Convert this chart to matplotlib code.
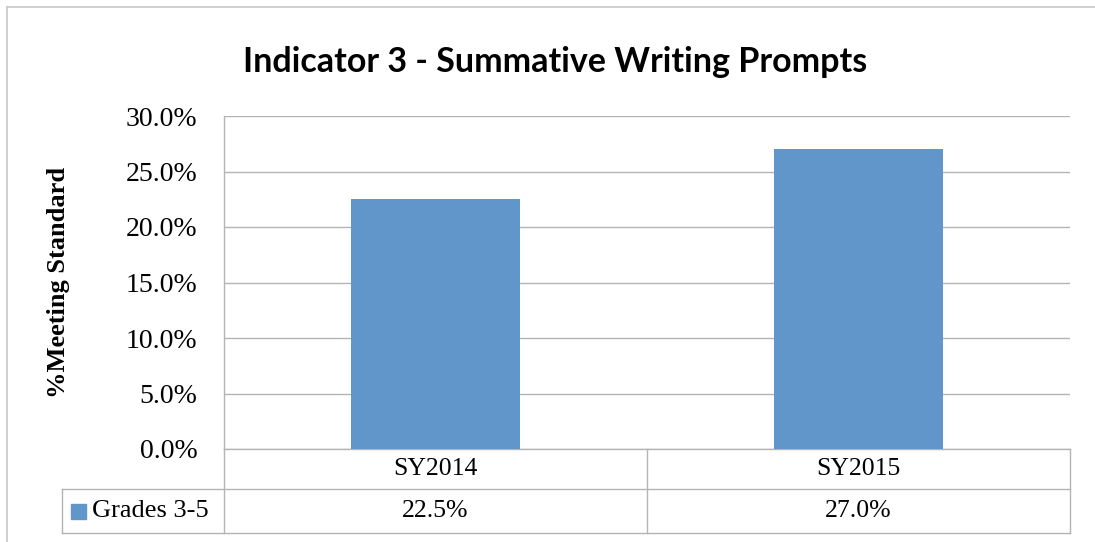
import matplotlib
matplotlib.use("Agg")
import matplotlib.pyplot as plt
from matplotlib.patches import Rectangle
from matplotlib.ticker import FuncFormatter, MultipleLocator

# chart data
categories = ["SY2014", "SY2015"]
grades_3_5 = [22.5, 27.0]
series_name = "Grades 3-5"
title = "Indicator 3 - Summative Writing Prompts"
y_label = "%Meeting Standard"

bar_color = "#6096c9"
line_color = "#b4b4b4"
serif = ["Liberation Serif", "DejaVu Serif"]

fig = plt.figure(figsize=(10.95, 5.42), dpi=100)
ax = fig.add_axes([224 / 1095, 93 / 542, 846 / 1095, 333 / 542])

# outer chart border (top and left edges visible)
fig.add_artist(plt.Line2D([6.5 / 1095, 1], [1 - 7 / 542, 1 - 7 / 542],
                          transform=fig.transFigure, color="#c8c8c8", linewidth=1.2))
fig.add_artist(plt.Line2D([6.5 / 1095, 6.5 / 1095], [0, 1 - 7 / 542],
                          transform=fig.transFigure, color="#c8c8c8", linewidth=1.2))

x = list(range(len(categories)))
ax.bar(x, grades_3_5, width=0.4, color=bar_color, zorder=3)
ax.set_xlim(-0.5, len(categories) - 0.5)
ax.set_ylim(0, 30)
ax.yaxis.set_major_locator(MultipleLocator(5))
ax.yaxis.set_major_formatter(FuncFormatter(lambda v, p: f"{v:.1f}%"))
ax.grid(axis="y", color=line_color, linewidth=1.0, zorder=0)
ax.set_xticks([])
ax.tick_params(axis="y", length=0, pad=19)
for lab in ax.get_yticklabels():
    lab.set_fontfamily(serif)
    lab.set_fontsize(20)
for s in ["top", "right", "bottom"]:
    ax.spines[s].set_visible(False)
ax.spines["left"].set_color(line_color)
ax.spines["left"].set_linewidth(1.0)

ax.set_ylabel(y_label, fontfamily=serif, fontweight="bold", fontsize=19, labelpad=40)
fig.suptitle(title, x=0.507, y=0.915, fontsize=24.5, fontweight="bold",
             fontfamily=["Lato", "DejaVu Sans"])

# data table below the axis
tr = ax.get_xaxis_transform()
row1 = -40 / 333
row2 = -84 / 333
box_left = -0.5 - (162 / 846) * len(categories)
lkw = dict(color=line_color, linewidth=1.0, clip_on=False, transform=tr)
ax.plot([-0.5, len(categories) - 0.5], [0, 0], **lkw)
ax.plot([box_left, len(categories) - 0.5], [row1, row1], **lkw)
ax.plot([box_left, len(categories) - 0.5], [row2, row2], **lkw)
ax.plot([box_left, box_left], [row1, row2], **lkw)
for b in range(len(categories) + 1):
    ax.plot([b - 0.5, b - 0.5], [0, row2], **lkw)

for i, cat in enumerate(categories):
    ax.text(i, row1 / 2, cat, transform=tr, ha="center", va="center",
            fontfamily=serif, fontsize=18.5)
    ax.text(i, (row1 + row2) / 2, f"{grades_3_5[i]:.1f}%", transform=tr,
            ha="center", va="center", fontfamily=serif, fontsize=18.5)

key_x = -0.5 - (153 / 846) * len(categories)
ax.add_patch(Rectangle((key_x, (row1 + row2) / 2 - 0.024), (15 / 846) * len(categories), 0.045,
                       transform=tr, color=bar_color, clip_on=False))
ax.text(-0.5 - (132 / 846) * len(categories), (row1 + row2) / 2, series_name, transform=tr,
        ha="left", va="center", fontfamily=serif, fontsize=19)

fig.savefig("out.png", dpi=100)
